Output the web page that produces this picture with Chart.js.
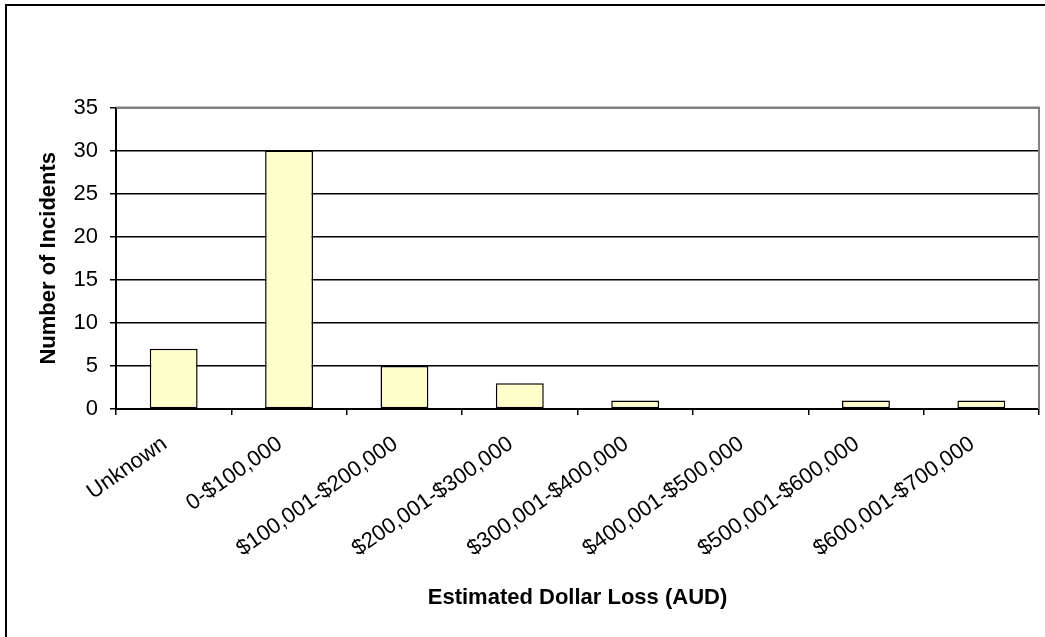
<!DOCTYPE html>
<html>
<head>
<meta charset="utf-8">
<title>Estimated Dollar Loss</title>
<script src="https://cdn.jsdelivr.net/npm/chart.js"></script>
<style>
    body{margin:0;background:#fff;overflow:hidden}
    #caixa{position:relative;width:1045px;height:637px}
    #moldura{position:absolute;left:5px;top:4px;width:1100px;height:700px;border-left:2px solid #000;border-top:2px solid #000}
    #grafico{position:absolute;left:0;top:0}
</style>
</head>
<body>
<div id="caixa">
    <div id="moldura"></div>
    <canvas id="grafico" width="1045" height="637"></canvas>
</div>
<script>
let categorias=['Unknown','0-$100,000','$100,001-$200,000','$200,001-$300,000','$300,001-$400,000','$400,001-$500,000','$500,001-$600,000','$600,001-$700,000']
let incidentes=[7, 30, 5, 3, 1, 0, 1, 1]
let yTicks=[0, 5, 10, 15, 20, 25, 30, 35]
let tituloX='Estimated Dollar Loss (AUD)'
let tituloY='Number of Incidents'

const fonte='"Liberation Sans", Arial, sans-serif'
Chart.defaults.color='#000'
Chart.defaults.font.family=fonte

// borda cinza da area do grafico (topo e direita)
const bordaArea={
    id:'bordaArea',
    beforeDatasetsDraw:(chart)=>{
        const {ctx, chartArea:{left, top, right, bottom}}=chart
        ctx.save()
        ctx.strokeStyle='#808080'
        ctx.lineWidth=2
        ctx.beginPath()
        ctx.moveTo(left, top)
        ctx.lineTo(right, top)
        ctx.lineTo(right, bottom)
        ctx.stroke()
        ctx.restore()
    }
}

const ctx=document.getElementById('grafico')
let g=new Chart(ctx, {
    type:'bar',
    data:{
        labels:categorias,
        datasets:[{
            label:tituloY,
            data:incidentes,
            backgroundColor:'#FFFFCC',
            borderColor:'#000',
            borderWidth:1.5,
            borderSkipped:false,
            categoryPercentage:1,
            barPercentage:0.415
        }]
    },
    options:{
        responsive:false,
        animation:false,
        layout:{padding:{left:0, top:107.5, right:6, bottom:0}},
        plugins:{legend:{display:false}, tooltip:{enabled:false}},
        scales:{
            x:{
                offset:true,
                grid:{offset:true, drawOnChartArea:false, color:'#000', tickLength:6, lineWidth:1.5},
                border:{color:'#000', width:2},
                ticks:{font:{size:22}, minRotation:35, maxRotation:35, padding:16, labelOffset:-9, autoSkip:false},
                title:{display:true, text:tituloX, font:{size:22, weight:'bold'}, padding:{top:0, bottom:26}},
                afterFit:(s)=>{s.height=228}
            },
            y:{
                min:yTicks[0],
                max:yTicks[yTicks.length-1],
                afterBuildTicks:(s)=>{s.ticks=yTicks.map(v=>({value:v}))},
                grid:{color:'#000', tickColor:'#000', tickLength:6, lineWidth:1.5},
                border:{color:'#000', width:2},
                ticks:{font:{size:22}, padding:12},
                title:{display:true, text:tituloY, font:{size:22, weight:'bold'}, padding:{top:36, bottom:0}},
                afterFit:(s)=>{s.width=116}
            }
        }
    },
    plugins:[bordaArea]
})
</script>
</body>
</html>
